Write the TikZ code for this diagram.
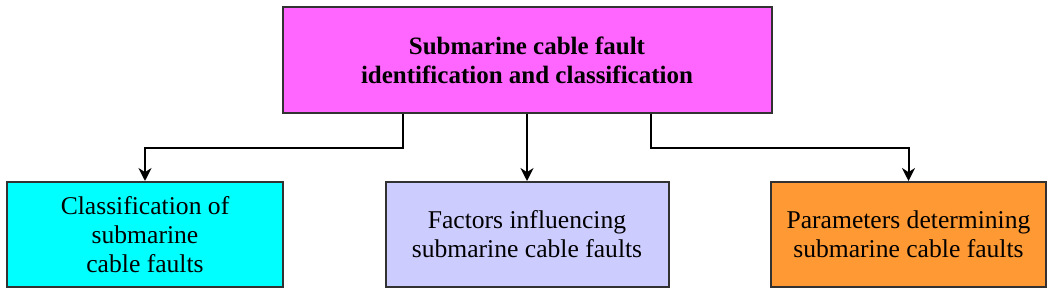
\documentclass[tikz,border=0pt]{standalone}
\usepackage{fontspec}
\setmainfont{Liberation Serif}
\usepackage{tikz}
\usetikzlibrary{arrows.meta}
\definecolor{topmag}{RGB}{255,102,255}
\definecolor{cyanbox}{RGB}{0,255,255}
\definecolor{lavender}{RGB}{204,204,255}
\definecolor{orangebox}{RGB}{255,153,51}
\definecolor{edge}{RGB}{50,50,50}
\tikzset{
  box/.style={draw=edge, line width=1pt, align=center, inner sep=2pt,
    minimum height=52.5pt,
    font=\fontsize{12.8}{14.5}\selectfont},
  link/.style={line width=1pt, -{Stealth[length=6.5pt, width=6.5pt]}}
}

\begin{document}
\begin{tikzpicture}[x=0.5pt, y=-0.5pt]
  \useasboundingbox (0,0) rectangle (1061,294);
  \node[box, fill=topmag, minimum width=244.5pt, minimum height=53pt,
        font=\fontsize{12.5}{14.5}\selectfont\bfseries] (fault) at (527,60)
    {Submarine cable fault\\identification and classification};
  \node[box, fill=cyanbox, minimum width=138pt] (classes) at (145,234.5)
    {Classification of\\submarine\\cable faults};
  \node[box, fill=lavender, minimum width=141.5pt] (factors) at (527,234.5)
    {Factors influencing\\submarine cable faults};
  \node[box, fill=orangebox, minimum width=137.5pt] (params) at (908.5,234.5)
    {Parameters determining\\submarine cable faults};
  \draw[link] ([xshift=-62pt]fault.south) -- ++(0,34) -| (classes.north);
  \draw[link] (fault.south) -- (factors.north);
  \draw[link] ([xshift=62pt]fault.south) -- ++(0,34) -| (params.north);
\end{tikzpicture}
\end{document}
